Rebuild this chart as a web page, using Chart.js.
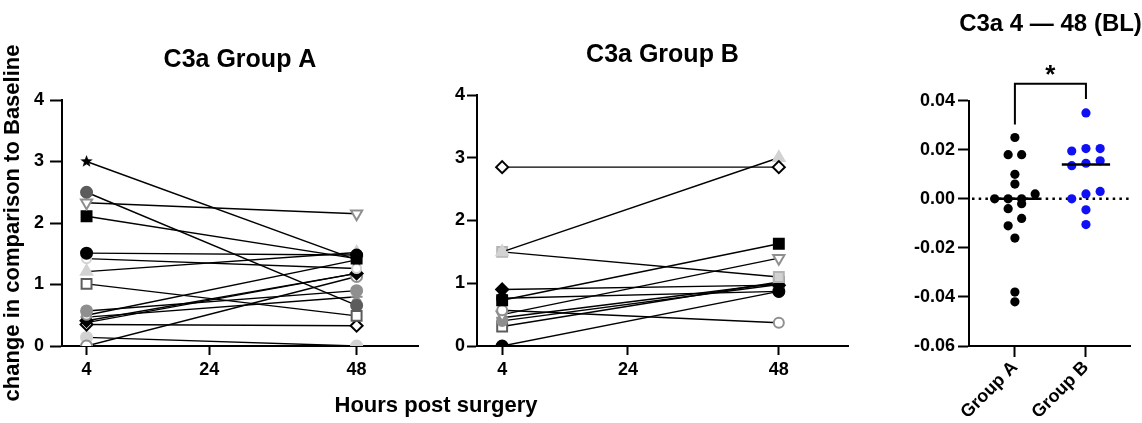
<!DOCTYPE html>
<html>
<head>
<meta charset="utf-8">
<script src="https://cdn.jsdelivr.net/npm/chart.js@4.4.1/dist/chart.umd.min.js"></script>
<style>
  html, body { margin: 0; padding: 0; background: #fff; }
  #wrap { position: relative; width: 1142px; height: 423px; }
  #wrap canvas { position: absolute; left: 0; top: 0; }
</style>
</head>
<body>
<div id="wrap">
  <canvas id="chartA" width="1142" height="423"></canvas>
  <canvas id="chartB" width="1142" height="423"></canvas>
  <canvas id="chartC" width="1142" height="423"></canvas>
</div>
<script>
// ---- data ----
var timepoints = [4, 48];
var hourTicks = [4, 24, 48];

// C3a Group A, change vs baseline at 4 h and 48 h (one entry per subject)
var groupA4h  = [3.00, 2.50, 2.33, 2.11, 1.51, 1.42, 1.21, 1.01, 0.57, 0.50, 0.41, 0.00, 0.35, 0.14, 0.47, 0.38];
var groupA48h = [1.40, 0.66, 2.15, 1.42, 1.48, 1.26, 1.52, 0.49, 0.90, 1.40, 1.18, 1.13, 0.33, 0.00, 0.80, 1.18];

// C3a Group B
var groupB4h  = [2.85, 1.50, 1.50, 0.90, 0.73, 0.76, 0.57, 0.50, 0.45, 0.40, 0.31, 0.00];
var groupB48h = [2.85, 3.00, 1.10, 0.97, 1.63, 0.87, 0.37, 1.40, 1.00, 0.98, 1.02, 0.87];

// C3a 4 - 48 (BL) per subject
var scatterGroups = ['Group A', 'Group B'];
var deltaA = [0.025, 0.018, 0.018, 0.010, 0.006, 0.002, 0.000, 0.000, 0.000, -0.002, -0.004, -0.008, -0.011, -0.016, -0.038, -0.042];
var deltaB = [0.035, 0.0205, 0.0195, 0.0205, 0.0145, 0.0155, 0.0135, 0.003, 0.002, 0.000, -0.0045, -0.0105];

var titleA = 'C3a Group A';
var titleB = 'C3a Group B';
var titleC = 'C3a 4 \u2014 48 (BL)';
var yTitleA = 'change in comparison to Baseline';
var xTitleShared = 'Hours post surgery';
var sigMark = '*';

// ---- styling ----
var FONT = "'Liberation Sans', Arial, sans-serif";
var BLACK = '#000', DARK = '#5c5c5c', MID = '#8f8f8f', LIGHT = '#d2d2d2', BLUE = '#1010f5';
var TITLE_SIZE = 25, TICK_SIZE = 18;

Chart.defaults.font.family = FONT;
Chart.defaults.font.weight = 'bold';
Chart.defaults.color = '#000';
Chart.defaults.animation = false;

function makeStar(size, color) {
  var c = document.createElement('canvas');
  c.width = c.height = size;
  var g = c.getContext('2d');
  g.fillStyle = color;
  g.beginPath();
  for (var i = 0; i < 10; i++) {
    var r = i % 2 ? size * 0.21 : size * 0.5;
    var a = -Math.PI / 2 + i * Math.PI / 5;
    g.lineTo(size / 2 + r * Math.cos(a), size / 2 + r * Math.sin(a));
  }
  g.closePath();
  g.fill();
  return c;
}

var stylesA = [
  {shape: makeStar(13, BLACK)},
  {shape: 'circle', r: 5.5, fill: DARK, edge: DARK},
  {shape: 'triangle', rot: 180, r: 6.5, fill: '#fff', edge: MID},
  {shape: 'rect', r: 7, fill: BLACK, edge: BLACK},
  {shape: 'circle', r: 5.5, fill: BLACK, edge: BLACK},
  {shape: 'circle', r: 4.5, fill: '#fff', edge: LIGHT},
  {shape: 'triangle', r: 6.5, fill: LIGHT, edge: LIGHT},
  {shape: 'rect', r: 7, fill: '#fff', edge: DARK},
  {shape: 'circle', r: 5.5, fill: MID, edge: MID},
  {shape: 'circle', r: 4.5, fill: '#fff', edge: MID},
  {shape: 'rectRot', r: 6, fill: BLACK, edge: BLACK},
  {shape: 'circle', r: 5.5, fill: '#fff', edge: MID},
  {shape: 'rectRot', r: 6, fill: '#fff', edge: BLACK},
  {shape: 'circle', r: 5.5, fill: LIGHT, edge: LIGHT},
  {shape: 'star', r: 6, fill: MID, edge: MID},
  {shape: 'circle', r: 4.5, fill: '#fff', edge: LIGHT}
];

var stylesB = [
  {shape: 'rectRot', r: 6, fill: '#fff', edge: BLACK},
  {shape: 'triangle', r: 6.5, fill: LIGHT, edge: LIGHT},
  {shape: 'rect', r: 7, fill: LIGHT, edge: '#b4b4b4'},
  {shape: 'rectRot', r: 6, fill: BLACK, edge: BLACK},
  {shape: 'rect', r: 7, fill: BLACK, edge: BLACK},
  {shape: 'circle', r: 5, fill: BLACK, edge: BLACK},
  {shape: 'circle', r: 5, fill: '#fff', edge: MID},
  {shape: 'triangle', rot: 180, r: 6.5, fill: '#fff', edge: MID},
  {shape: 'star', r: 6, fill: MID, edge: MID},
  {shape: 'circle', r: 5, fill: MID, edge: MID},
  {shape: 'rect', r: 7, fill: '#fff', edge: DARK},
  {shape: 'circle', r: 5.5, fill: BLACK, edge: BLACK}
];

function axisLine() {
  return {display: true, color: BLACK, width: 2};
}
function tickMarks(len) {
  return {display: true, drawOnChartArea: false, drawTicks: true, tickLength: len || 10, tickWidth: 2, tickColor: BLACK, color: BLACK};
}

// box: where the plot area should sit on the 1142x423 page
function pairedConfig(title, titleCenterY, starts, ends, styles, box, yTitle) {
  var titleH = TITLE_SIZE * 1.2;
  var padTop = titleCenterY - titleH / 2;
  var datasets = starts.map(function(v, i) {
    var s = styles[i];
    return {
      data: [{x: timepoints[0], y: v}, {x: timepoints[1], y: ends[i]}],
      showLine: true,
      borderColor: BLACK,
      borderWidth: 1.4,
      pointStyle: s.shape,
      pointRadius: s.r || 6,
      pointRotation: s.rot || 0,
      pointBackgroundColor: s.fill || BLACK,
      pointBorderColor: s.edge || BLACK,
      pointBorderWidth: 2
    };
  });
  return {
    type: 'scatter',
    data: {datasets: datasets},
    options: {
      responsive: false,
      layout: {padding: {left: box.left - box.yw, right: 1142 - box.right, top: 0, bottom: 423 - box.bottom - 40}},
      plugins: {
        legend: {display: false},
        tooltip: {enabled: false},
        title: {
          display: true, text: title, fullSize: false,
          font: {size: TITLE_SIZE, weight: 'bold'}, color: BLACK,
          padding: {top: padTop, bottom: box.top - padTop - titleH}
        }
      },
      scales: {
        x: {
          type: 'linear', min: 0, max: box.xmax,
          afterBuildTicks: function(s) { s.ticks = hourTicks.map(function(v) { return {value: v}; }); },
          afterFit: function(s) { s.height = 40; },
          grid: tickMarks(9), border: axisLine(),
          ticks: {font: {size: TICK_SIZE, weight: 'bold'}, padding: 4, maxRotation: 0, color: BLACK}
        },
        y: {
          min: 0, max: 4,
          afterFit: function(s) { s.width = box.yw; },
          grid: tickMarks(box.ytick), border: axisLine(),
          ticks: {stepSize: 1, font: {size: TICK_SIZE, weight: 'bold'}, padding: box.ypad, color: BLACK},
          title: {display: !!yTitle, text: yTitle || '', font: {size: 22, weight: 'bold'}, color: BLACK, padding: {top: 0, bottom: 0}}
        }
      }
    }
  };
}

// shared x axis title, drawn once under the two paired panels
var sharedTitlePlugin = {
  id: 'sharedTitle',
  afterDraw: function(chart) {
    var ctx = chart.ctx;
    ctx.save();
    ctx.font = 'bold 22px ' + FONT;
    ctx.fillStyle = BLACK;
    ctx.textAlign = 'center';
    ctx.textBaseline = 'alphabetic';
    ctx.fillText(xTitleShared, 436, 412);
    ctx.restore();
  }
};

new Chart(document.getElementById('chartA'), Object.assign(
  pairedConfig(titleA, 60, groupA4h, groupA48h, stylesA,
    {left: 62, right: 418, top: 100, bottom: 346, yw: 62, xmax: 58, ytick: 12, ypad: 6}, yTitleA),
  {plugins: [sharedTitlePlugin]}
));
new Chart(document.getElementById('chartB'),
  pairedConfig(titleB, 55, groupB4h, groupB48h, stylesB,
    {left: 477, right: 848, top: 95, bottom: 346, yw: 40, xmax: 59, ytick: 10, ypad: 2}, null)
);

// ---- scatter panel ----
function median(arr) {
  var s = arr.slice().sort(function(a, b) { return a - b; });
  var m = Math.floor(s.length / 2);
  return s.length % 2 ? s[m] : (s[m - 1] + s[m]) / 2;
}

// simple column swarm: values closer than binSize share a row and are spread sideways
function swarm(values, center, binSize, step) {
  var order = values.map(function(v, i) { return i; }).sort(function(a, b) { return values[a] - values[b]; });
  var pts = [], bin = [];
  function flush() {
    bin.forEach(function(idx, k) {
      pts.push({x: center + (k - (bin.length - 1) / 2) * step, y: values[idx]});
    });
    bin = [];
  }
  order.forEach(function(idx) {
    if (bin.length && values[idx] - values[bin[0]] >= binSize - 1e-9) flush();
    bin.push(idx);
  });
  flush();
  return pts;
}

function medianLine(values, center) {
  var m = median(values);
  return {
    data: [{x: center - 0.34, y: m}, {x: center + 0.34, y: m}],
    showLine: true, borderColor: BLACK, borderWidth: 2.5, pointRadius: 0, order: 0
  };
}

var zeroLinePlugin = {
  id: 'zeroLine',
  beforeDatasetsDraw: function(chart) {
    var a = chart.chartArea, y = chart.scales.y.getPixelForValue(0), ctx = chart.ctx;
    ctx.save();
    ctx.strokeStyle = BLACK;
    ctx.lineWidth = 2.5;
    ctx.setLineDash([2.5, 4.2]);
    ctx.beginPath();
    ctx.moveTo(a.left + 3, y);
    ctx.lineTo(a.right, y);
    ctx.stroke();
    ctx.restore();
  }
};

// significance bracket, star and the panel title (wider than the plot, so drawn here)
var bracketPlugin = {
  id: 'sigBracket',
  afterDatasetsDraw: function(chart) {
    var ctx = chart.ctx, xs = chart.scales.x, ys = chart.scales.y, a = chart.chartArea;
    var x1 = xs.getPixelForValue(1), x2 = xs.getPixelForValue(2);
    var top = a.top - 17;
    var y1 = ys.getPixelForValue(Math.max.apply(null, deltaA)) - 13;
    var y2 = ys.getPixelForValue(Math.max.apply(null, deltaB)) - 14;
    ctx.save();
    ctx.strokeStyle = BLACK;
    ctx.lineWidth = 2;
    ctx.beginPath();
    ctx.moveTo(x1, y1);
    ctx.lineTo(x1, top);
    ctx.lineTo(x2, top);
    ctx.lineTo(x2, y2);
    ctx.stroke();
    ctx.fillStyle = BLACK;
    ctx.textAlign = 'center';
    ctx.textBaseline = 'alphabetic';
    ctx.font = 'bold 26px ' + FONT;
    ctx.fillText(sigMark, (x1 + x2) / 2, top - 1);
    ctx.textBaseline = 'middle';
    ctx.font = 'bold 24px ' + FONT;
    ctx.fillText(titleC, (a.left + a.right) / 2 + 1, 24);
    ctx.restore();
  }
};

var boxC = {left: 969, right: 1130, top: 100.7, bottom: 346, yw: 60};

new Chart(document.getElementById('chartC'), {
  type: 'scatter',
  data: {
    datasets: [
      medianLine(deltaA, 1),
      medianLine(deltaB, 2),
      {data: swarm(deltaA, 1, 0.0037, 0.19), pointRadius: 4.6, pointBackgroundColor: BLACK, pointBorderColor: BLACK, pointBorderWidth: 0, order: 1},
      {data: swarm(deltaB, 2, 0.0037, 0.2), pointRadius: 4.6, pointBackgroundColor: BLUE, pointBorderColor: BLUE, pointBorderWidth: 0, order: 1}
    ]
  },
  options: {
    responsive: false,
    layout: {padding: {left: boxC.left - boxC.yw, right: 1142 - boxC.right, top: boxC.top, bottom: 423 - boxC.bottom - 70}},
    plugins: {
      legend: {display: false},
      tooltip: {enabled: false},
      title: {display: false}
    },
    scales: {
      x: {
        type: 'linear', min: 0.354, max: 2.62,
        afterBuildTicks: function(s) { s.ticks = [{value: 1}, {value: 2}]; },
        afterFit: function(s) { s.height = 70; },
        grid: tickMarks(11), border: axisLine(),
        ticks: {
          font: {size: 18, weight: 'bold'}, padding: 0, minRotation: 45, maxRotation: 45, color: BLACK,
          callback: function(v) { return scatterGroups[v - 1]; }
        }
      },
      y: {
        min: -0.06, max: 0.04,
        afterFit: function(s) { s.width = boxC.yw; },
        grid: tickMarks(11), border: axisLine(),
        ticks: {
          stepSize: 0.02, font: {size: TICK_SIZE, weight: 'bold'}, padding: 3, color: BLACK,
          callback: function(v) { return (Math.round(v * 100) / 100).toFixed(2); }
        }
      }
    }
  },
  plugins: [zeroLinePlugin, bracketPlugin]
});
</script>
</body>
</html>
